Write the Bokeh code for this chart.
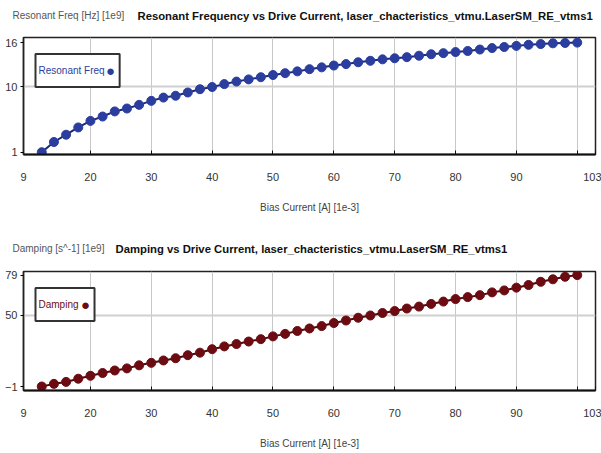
from bokeh.plotting import figure
from bokeh.layouts import column
from bokeh.models import FixedTicker, Label, Range1d
from bokeh.embed import file_html
from bokeh.resources import INLINE

# ---- data ----
bias_current = [12, 14, 16, 18, 20, 22, 24, 26, 28, 30, 32, 34, 36, 38, 40,
                42, 44, 46, 48, 50, 52, 54, 56, 58, 60, 62, 64, 66, 68, 70,
                72, 74, 76, 78, 80, 82, 84, 86, 88, 90, 92, 94, 96, 98, 100]
resonant_freq = [1.0, 2.4, 3.4, 4.4, 5.3, 5.9, 6.6, 7.0, 7.5, 8.05, 8.5, 8.75, 9.2, 9.65, 9.95,
                 10.35, 10.7, 11.0, 11.3, 11.6, 11.85, 12.1, 12.4, 12.65, 12.9, 13.1, 13.35, 13.55, 13.75, 13.9,
                 14.05, 14.25, 14.45, 14.6, 14.75, 14.9, 15.1, 15.3, 15.45, 15.6, 15.75, 15.85, 15.95, 16.0, 16.05]
damping = [-1.0, 0.9, 2.3, 4.6, 6.7, 8.7, 10.5, 12.0, 14.2, 16.0, 17.7, 19.3, 21.5, 23.3, 25.8,
           27.8, 29.5, 31.3, 33.0, 35.0, 36.8, 38.9, 40.7, 42.4, 44.6, 46.4, 48.4, 50.0, 51.8, 53.2,
           55.0, 56.4, 58.3, 60.0, 61.8, 63.2, 64.6, 66.6, 68.0, 70.0, 71.9, 74.2, 76.0, 77.8, 79.0]

x_ticks = [9, 20, 30, 40, 50, 60, 70, 80, 90, 100, 103]
x_grid = [20, 30, 40, 50, 60, 70, 80, 90, 100]
freq_ticks = [1, 10, 16]
freq_grid = [10]
damp_ticks = [-1, 50, 79]
damp_grid = [50]

FONT = "Liberation Sans"


def title_strip(height, ylab, title, bold_x, text_y):
    s = figure(width=601, height=height, output_backend="svg", toolbar_location=None,
               x_range=Range1d(0, 1), y_range=Range1d(0, 1), title=None,
               x_axis_location=None, y_axis_location=None,
               min_border_left=0, min_border_right=0, min_border_top=0, min_border_bottom=0)
    s.outline_line_color = None
    s.grid.visible = False
    s.background_fill_color = "white"
    s.border_fill_color = "white"
    s.add_layout(Label(x=12, y=text_y, x_units="screen", y_units="screen",
                       text=ylab, text_font=FONT, text_font_size="10px",
                       text_color="#555555", text_baseline="middle"))
    s.add_layout(Label(x=bold_x, y=text_y, x_units="screen", y_units="screen",
                       text=title, text_font=FONT, text_font_size="11.3px",
                       text_font_style="bold", text_color="#111111",
                       text_baseline="middle"))
    return column(s, spacing=0)


def build(yvals, color, line_color, y_range, y_ticks, y_grid, legend_text,
          height, top, bottom, legend_y, pad, marker_x):
    p = figure(width=601, height=height, output_backend="svg", toolbar_location=None,
               x_range=Range1d(9, 103), y_range=Range1d(*y_range), title=None,
               min_border_left=23, min_border_right=6,
               min_border_top=top, min_border_bottom=bottom)
    p.background_fill_color = "white"
    p.border_fill_color = "white"
    p.outline_line_color = "#222222"
    p.outline_line_width = 1.5

    p.line(bias_current, yvals, line_color=line_color, line_width=2)
    p.scatter(bias_current, yvals, marker="circle", size=9,
              fill_color=color, line_color=color)

    xa = p.xaxis[0]
    xa.ticker = FixedTicker(ticks=x_ticks)
    xa.major_label_overrides = {100: ""}
    xa.major_tick_in = 4
    xa.major_tick_out = 0
    xa.minor_tick_in = 0
    xa.minor_tick_out = 0
    xa.axis_line_color = "#111111"
    xa.axis_line_width = 2
    xa.major_tick_line_color = "#111111"
    xa.major_label_standoff = 18
    xa.major_label_text_font = FONT
    xa.major_label_text_font_size = "11px"
    xa.major_label_text_color = "#333333"
    xa.axis_label = "Bias Current [A] [1e-3]"
    xa.axis_label_text_font = FONT
    xa.axis_label_text_font_size = "10px"
    xa.axis_label_text_font_style = "normal"
    xa.axis_label_text_color = "#444444"
    xa.axis_label_standoff = 18

    ya = p.yaxis[0]
    ya.ticker = FixedTicker(ticks=y_ticks)
    ya.major_tick_in = 0
    ya.major_tick_out = 3
    ya.minor_tick_in = 0
    ya.minor_tick_out = 0
    ya.axis_line_color = "#222222"
    ya.axis_line_width = 1.5
    ya.major_label_standoff = 3
    ya.major_label_text_font = FONT
    ya.major_label_text_font_size = "11px"
    ya.major_label_text_color = "#333333"

    p.xgrid.ticker = FixedTicker(ticks=x_grid)
    p.xgrid.grid_line_color = "#c8c8c8"
    p.xgrid.grid_line_width = 1
    p.ygrid.ticker = FixedTicker(ticks=y_grid)
    p.ygrid.grid_line_color = "#d0d0d0"
    p.ygrid.grid_line_width = 2

    # legend: text then marker, inside a framed box
    p.add_layout(Label(x=12, y=legend_y, x_units="screen", y_units="screen",
                       text=legend_text, text_font=FONT, text_font_size="10px",
                       text_color=color, text_baseline="middle",
                       background_fill_color="white",
                       border_line_color="#333333", border_line_width=2,
                       padding=pad))
    p.add_layout(Label(x=marker_x, y=legend_y, x_units="screen", y_units="screen",
                       text="\u25cf", text_font=FONT, text_font_size="15px",
                       text_color=color, text_baseline="middle", text_align="center"))
    return p


strip1 = title_strip(28, "Resonant Freq [Hz] [1e9]",
                     "Resonant Frequency vs Drive Current, laser_chacteristics_vtmu.LaserSM_RE_vtms1",
                     137, 13)
top_plot = build(resonant_freq, "#2b3ea0", "#1c2a70", (0.685, 16.75), freq_ticks, freq_grid,
                 "Resonant Freq", 198, 9, 72, 84,
                 dict(left=3, right=15, top=11, bottom=11), 87)
strip2 = title_strip(36, "Damping [s^-1] [1e9]",
                     "Damping vs Drive Current, laser_chacteristics_vtmu.LaserSM_RE_vtms1",
                     115, 14)
bottom_plot = build(damping, "#6c0c12", "#4a0a0c", (-3.87, 81.6), damp_ticks, damp_grid,
                    "Damping", 191, 9, 63, 86,
                    dict(left=3, right=16, top=11, bottom=11), 62)

layout = column(strip1, top_plot, strip2, bottom_plot, spacing=0)
open("out.html", "w").write(file_html(layout, INLINE))
